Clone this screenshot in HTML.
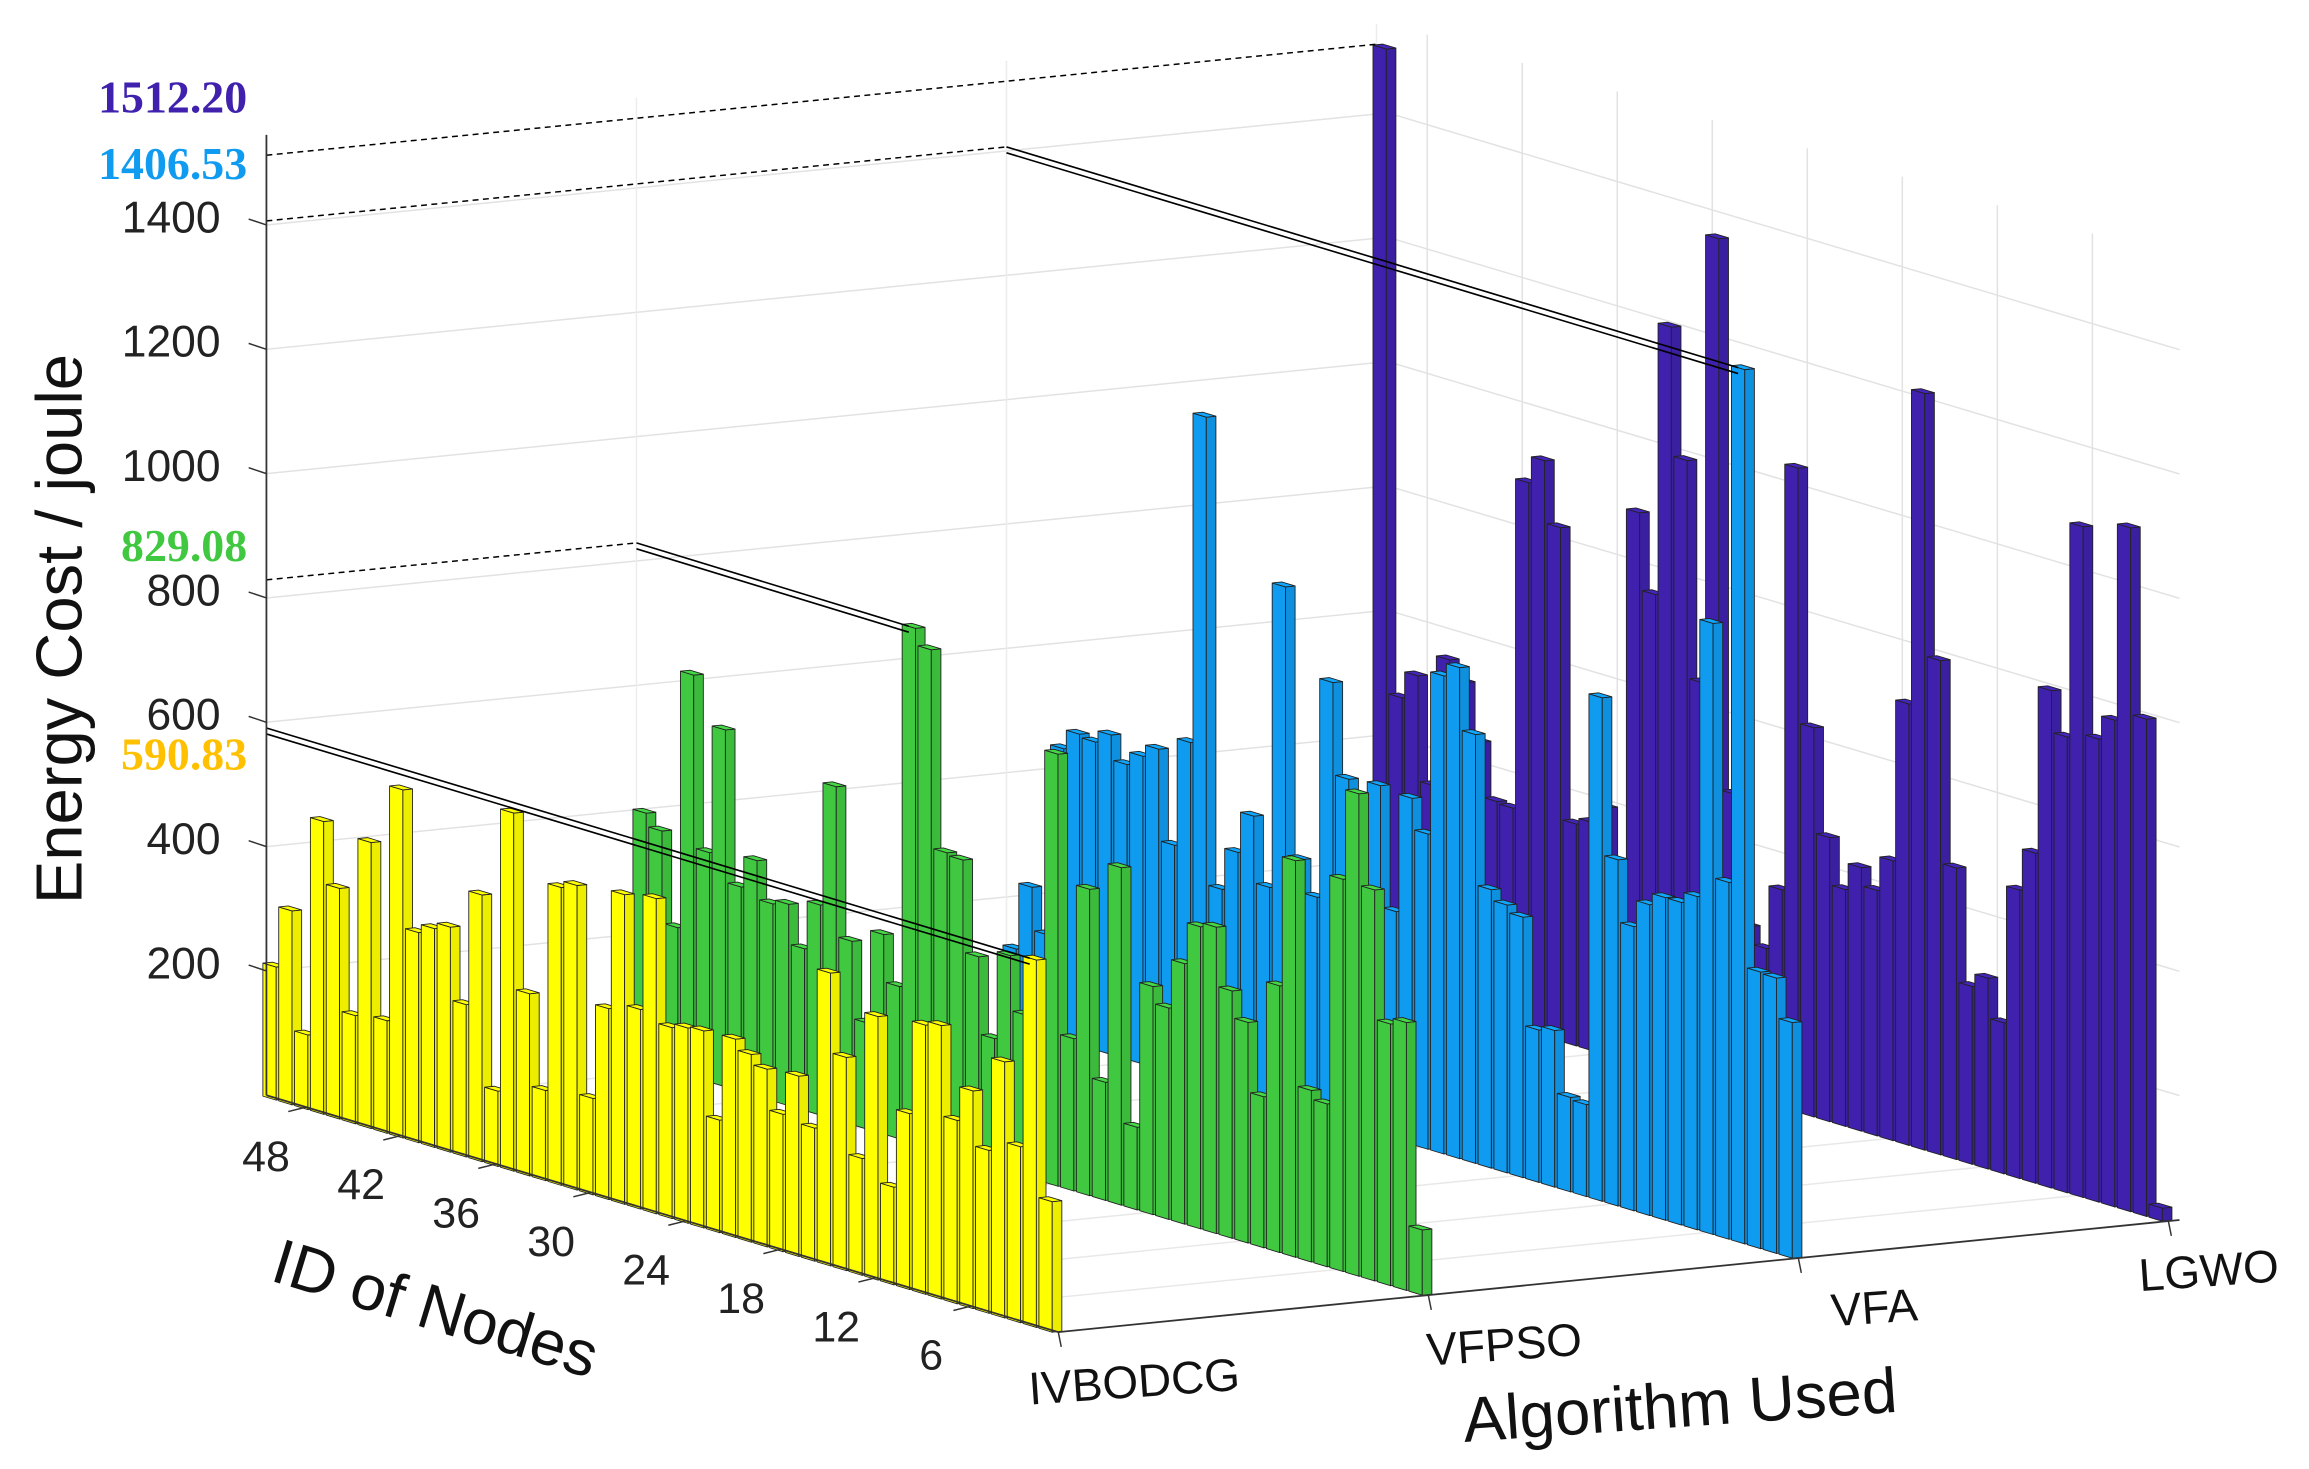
<!DOCTYPE html>
<html><head><meta charset="utf-8"><style>
html,body{margin:0;padding:0;background:#fff;}
svg{display:block;}
</style></head><body>
<svg id="chart" width="2309" height="1469" viewBox="0 0 1560 992.5" preserveAspectRatio="none" xmlns="http://www.w3.org/2000/svg" font-family="Liberation Sans, Arial, sans-serif">
<g id="grid"></g>
<g id="bars"></g>
<g id="annot"></g>
<g id="axes"></g>
</svg>
<script>
const algorithms = ["IVBODCG","VFPSO","VFA","LGWO"];
const colors = ["#ffff00","#40c840","#0f9bef","#3f21ad"];
// values indexed by node 1..50 (index 0 = node 1)
const yellowVals = [210,591,283,412,262,350,295,440,433,283,157,424,188,343,471,214,290,221,286,302,319,181,317,314,307,507,321,498,307,155,490,479,145,293,576,121,429,245,362,352,338,560,181,460,174,371,471,120,312,214];
const greenVals = [105,431,421,629,776,631,262,276,638,429,243,355,398,493,486,419,340,367,133,543,190,493,245,695,279,260,348,207,331,479,483,802,829,245,321,171,295,536,338,260,324,317,379,329,574,369,647,233,381,402];
const blueVals = [379,443,445,1406.53,574,983,536,519,519,500,457,557,810,148,152,252,245,419,431,448,690,790,769,507,557,367,562,433,557,705,352,405,836,345,452,386,319,1071,540,367,514,495,474,514,495,500,469,162,231,124];
const purpleVals = [21,800,1100,783,745,1079,733,800,531,464,243,307,286,469,795,1217,710,450,395,424,381,457,626,1036,350,248,276,481,1367,645,995,1202,764,888,310,398,367,357,826,926,883,352,355,443,531,560,350,519,476,1512.2];
const series = [yellowVals, greenVals, blueVals, purpleVals];
const valueTicks = [200,400,600,800,1000,1200,1400];
const nodeTicks = [6,12,18,24,30,36,42,48];
const maxLabels = ["590.83","829.08","1406.53","1512.20"];
const maxNodes = [2,33,4,50];
const maxVals = [590.83,829.08,1406.53,1512.2];
const labelColors = ["#ffc000","#40c840","#0f9bef","#3f21ad"];

const NS="http://www.w3.org/2000/svg";
function P(u,a,v){return [715-(u-0.5)*10.7+a*250, 900-(u-0.5)*3.2-a*25-v*0.42];}
function mk(tag,attrs,parent){const e=document.createElementNS(NS,tag);for(const k in attrs)e.setAttribute(k,attrs[k]);parent.appendChild(e);return e;}
function pts(arr){return arr.map(p=>p[0].toFixed(2)+","+p[1].toFixed(2)).join(" ");}
function shade(hex,f){const n=parseInt(hex.slice(1),16);let r=(n>>16)&255,g=(n>>8)&255,b=n&255;r=Math.min(255,Math.round(r*f));g=Math.min(255,Math.round(g*f));b=Math.min(255,Math.round(b*f));return `rgb(${r},${g},${b})`;}

const grid=document.getElementById('grid');
const U0=50.5,U1=0.5,A0=0,A1=3.03,VMAX=1545;
for(const v of valueTicks){
  const l1=mk('polyline',{points:pts([P(U0,A0,v),P(U0,A1,v),P(U1,A1,v)]),fill:'none',stroke:'#e2e2e2','stroke-width':1},grid);
  
  
}
for(let j=0;j<4;j++){
  const a=P(U0,j,0),b=P(U0,j,VMAX);
  const l=mk('line',{x1:a[0],y1:a[1],x2:b[0],y2:b[1],stroke:'#ececec','stroke-width':1},grid);
  
  
}
for(const n of nodeTicks){
  const a=P(n,A1,0),b=P(n,A1,VMAX);
  const l=mk('line',{x1:a[0],y1:a[1],x2:b[0],y2:b[1],stroke:'#e2e2e2','stroke-width':1},grid);
  
  
}
for(const n of nodeTicks){
  const l=mk('polyline',{points:pts([P(n,A0,0),P(n,A1,0)]),fill:'none',stroke:'#e8e8e8','stroke-width':1},grid);
  
  
}
for(let j=0;j<4;j++){
  const l=mk('polyline',{points:pts([P(U0,j,0),P(U1,j,0)]),fill:'none',stroke:'#e8e8e8','stroke-width':1},grid);
  
  
}

const barsG=document.getElementById('bars');
const W=0.42,D=0.013;
for(let j=3;j>=0;j--){
  const vals=series[j];
  for(let n=50;n>=1;n--){
    const v=vals[n-1];
    const g=mk('g',{},barsG);
    
    
    const c=colors[j];
    const left=[P(n+W,j-D,0),P(n-W,j-D,0),P(n-W,j-D,v),P(n+W,j-D,v)];
    const front=[P(n-W,j-D,0),P(n-W,j+D,0),P(n-W,j+D,v),P(n-W,j-D,v)];
    const top=[P(n+W,j-D,v),P(n-W,j-D,v),P(n-W,j+D,v),P(n+W,j+D,v)];
    mk('polygon',{points:pts(left),fill:c,stroke:'#222','stroke-width':0.6,'stroke-linejoin':'round'},g);
    mk('polygon',{points:pts(front),fill:shade(c,0.93),stroke:'#222','stroke-width':0.6},g);
    mk('polygon',{points:pts(top),fill:shade(c,1.08),stroke:'#222','stroke-width':0.6},g);
  }
}

const an=document.getElementById('annot');
const labelY=[520,379,121,76];
for(let j=0;j<4;j++){
  const V=maxVals[j];
  const a=P(U0,A0,V),b=P(U0,j,V),c=P(maxNodes[j],j-D,V);
  if(j>0){
    const d=mk('line',{x1:a[0],y1:a[1],x2:b[0],y2:b[1],stroke:'#000','stroke-width':1,'stroke-dasharray':'4,3'},an);
    
    
  }
  if(j<3){
    for(const off of [0,4]){
      const s=mk('line',{x1:b[0],y1:b[1]+off,x2:c[0],y2:c[1]+off,stroke:'#000','stroke-width':1.1},an);
      
      
    }
  }
  const t=mk('text',{x:167,y:labelY[j],'text-anchor':'end','font-family':'Liberation Serif, serif','font-weight':'bold','font-size':31,fill:labelColors[j]},an);
  t.textContent=maxLabels[j];
  
  
}

const ax=document.getElementById('axes');
{
  const a=P(U0,A0,0),b=P(U0,A0,VMAX);
  const l=mk('line',{x1:a[0],y1:a[1],x2:b[0],y2:b[1],stroke:'#333','stroke-width':1.2},ax);
  
  
  const f=mk('polyline',{points:pts([P(U0,A0,0),P(U1,A0,0),P(U1,A1,0)]),fill:'none',stroke:'#333','stroke-width':1.2},ax);
  
  
}
for(const v of valueTicks){
  const p=P(U0,A0,v);
  const tk=mk('line',{x1:p[0]-12,y1:p[1]-4,x2:p[0],y2:p[1],stroke:'#333','stroke-width':1},ax);
  
  
  const t=mk('text',{x:p[0]-31,y:p[1]+5,'text-anchor':'end','font-size':30,fill:'#222'},ax);
  t.textContent=v;
  
  
}
for(const n of nodeTicks){
  const p=P(n,A0,0);
  const tk=mk('line',{x1:p[0],y1:p[1],x2:p[0]-12,y2:p[1]+3,stroke:'#333','stroke-width':1},ax);
  
  
  const t=mk('text',{x:p[0]-27,y:p[1]+43,'text-anchor':'middle','font-size':29,fill:'#222'},ax);
  t.textContent=n;
  
  
}
for(let j=0;j<4;j++){
  const p=P(U1,j,0);
  const tk=mk('line',{x1:p[0],y1:p[1],x2:p[0]+2,y2:p[1]+10,stroke:'#333','stroke-width':1},ax);
  
  
  const dx = j===3 ? 28 : 52;
  const t=mk('text',{x:p[0]+dx,y:p[1]+44,'text-anchor':'middle','font-size':31,fill:'#111',transform:`rotate(-4 ${p[0]+dx} ${p[1]+44})`},ax);
  t.textContent=algorithms[j];
  
  
}
</script>
<svg style="position:absolute;left:0;top:0" width="2309" height="1469" viewBox="0 0 1560 992.5" preserveAspectRatio="none" font-family="Liberation Sans, Arial, sans-serif">
<text x="0" y="0" font-size="44" fill="#111" text-anchor="middle" transform="translate(55,425) rotate(-90)">Energy Cost / joule</text>
<text x="0" y="0" font-size="43" fill="#111" text-anchor="middle" transform="translate(290,898) rotate(17)">ID of Nodes</text>
<text x="0" y="0" font-size="43" fill="#111" text-anchor="middle" transform="translate(1136,964) rotate(-4)">Algorithm Used</text>
</svg>
</body></html>
